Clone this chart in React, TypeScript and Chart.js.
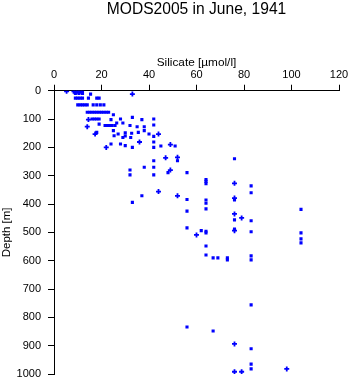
import React, { useEffect, useRef } from "react";
import { Chart, registerables } from "chart.js";

Chart.register(...registerables);

const chartTitle = "MODS2005 in June, 1941";
const xAxisTitle = "Silicate [\u00b5mol/l]";
const yAxisTitle = "Depth [m]";
const xTicks = [0, 20, 40, 60, 80, 100, 120];
const yTicks = [0, 100, 200, 300, 400, 500, 600, 700, 800, 900, 1000];

// square markers
const squareSilicate = [
  8, 9, 10, 11, 12, 8.5, 10, 11.5, 9, 10.5, 12, 15.4,
  9, 10, 11, 12, 14.5, 18, 19,
  10, 11, 12, 13, 14, 16.5, 18, 19.5, 21,
  14, 15, 16, 17, 18, 19, 20, 21, 22, 23,
  25, 16, 17, 18, 19, 24, 28, 33, 37, 42,
  19, 26.4, 29, 21.5, 22.5, 23.5, 24.5, 25.7, 32, 35, 38, 42,
  25, 27, 30, 30, 32.7, 35.5, 38, 18, 25.3, 29, 32.3, 40, 42,
  42, 24, 28, 30, 33, 42, 45, 51,
  42, 52, 38, 42, 32, 32, 42, 48, 56,
  37, 56, 33,
  76, 64, 64, 64, 83, 83, 76, 64, 64, 64, 56, 104, 76, 83,
  56, 62, 64, 64, 76, 83, 104, 104, 104, 64, 64, 67, 69, 73, 73, 83, 83,
  83, 56, 67, 83, 83, 83,
];
const squareDepth = [
  0, 0, 0, 0, 0, 5, 5, 5, 10, 10, 10, 12,
  26, 26, 26, 26, 26, 26, 26,
  50, 50, 50, 50, 50, 50, 50, 50, 50,
  76, 76, 76, 76, 76, 76, 76, 76, 76, 76,
  85, 100, 100, 100, 100, 102, 100, 94, 102, 100,
  118, 114, 114, 123, 123, 123, 123, 123, 123, 127, 127, 121,
  141, 153, 149, 160, 150, 147, 141, 147, 159, 165, 165, 153, 161,
  181, 188, 188, 194, 200, 200, 195, 195,
  247, 247, 270, 270, 280, 297, 297, 289, 289,
  371, 384, 394,
  240, 314, 320, 328, 336, 360, 386, 386, 397, 417, 425, 419, 456, 459,
  484, 494, 496, 502, 488, 498, 502, 523, 537, 548, 580, 590, 590, 590, 597, 583, 597,
  756, 834, 848, 911, 965, 982,
];

// plus markers
const plusSilicate = [
  5.3, 33, 14.5, 14, 17.3, 44, 36, 22, 49,
  47, 52, 49, 44, 52,
  76, 76, 76, 79, 60, 76, 76, 76, 79, 98,
];
const plusDepth = [
  2, 12, 102, 127, 153, 153, 181, 200, 190,
  237, 235, 280, 356, 371,
  327, 379, 435, 449, 509, 494, 894, 992, 992, 982,
];

const BLUE = "#0000ff";
const FONT = "'Liberation Sans', Arial, Helvetica, sans-serif";

export default function App() {
  const canvasRef = useRef<HTMLCanvasElement | null>(null);

  useEffect(() => {
    if (!canvasRef.current) return;
    const sq = squareSilicate.map((x, i) => ({ x, y: squareDepth[i] }));
    const pl = plusSilicate.map((x, i) => ({ x, y: plusDepth[i] }));
    const chart = new Chart(canvasRef.current, {
      type: "scatter",
      data: {
        datasets: [
          {
            data: sq,
            pointStyle: "rect",
            pointRadius: 2.2,
            backgroundColor: BLUE,
            borderColor: BLUE,
            borderWidth: 0,
          },
          {
            data: pl,
            pointStyle: "cross",
            pointRadius: 2.5,
            backgroundColor: BLUE,
            borderColor: BLUE,
            borderWidth: 1.8,
          },
        ],
      },
      options: {
        animation: false,
        responsive: false,
        devicePixelRatio: 1,
        layout: { padding: { left: 0, right: 12, top: 0, bottom: 10 } },
        plugins: {
          legend: { display: false },
          tooltip: { enabled: false },
          title: {
            display: true,
            text: chartTitle,
            color: "#000",
            fullSize: false,
            font: { family: FONT, size: 15.6, weight: "normal" },
            padding: { top: 0, bottom: 28 },
          },
        },
        scales: {
          x: {
            type: "linear",
            position: "top",
            min: 0,
            max: 120,
            afterBuildTicks: (axis: any) => {
              axis.ticks = xTicks.map((v) => ({ value: v }));
            },
            afterFit: (axis: any) => {
              axis.height = 44;
              axis.paddingLeft = 0;
              axis.paddingRight = 0;
            },
            ticks: {
              color: "#000",
              font: { family: FONT, size: 11 },
              padding: 3,
              maxRotation: 0,
              callback: (v: any) => String(v),
            },
            grid: {
              display: true,
              drawOnChartArea: false,
              drawTicks: true,
              tickLength: 6,
              color: "#000",
              lineWidth: 1,
            },
            border: { display: true, color: "#000", width: 1 },
            title: {
              display: true,
              text: xAxisTitle,
              color: "#000",
              font: { family: FONT, size: 11.8 },
              padding: { top: 9, bottom: 2 },
            },
          },
          y: {
            type: "linear",
            reverse: true,
            min: 0,
            max: 1000,
            afterBuildTicks: (axis: any) => {
              axis.ticks = yTicks.map((v) => ({ value: v }));
            },
            afterFit: (axis: any) => {
              axis.width = 54;
              axis.paddingTop = 0;
              axis.paddingBottom = 0;
            },
            ticks: {
              color: "#000",
              font: { family: FONT, size: 11 },
              padding: 7,
              callback: (v: any) => String(v),
            },
            grid: {
              display: true,
              drawOnChartArea: false,
              drawTicks: true,
              tickLength: 6,
              color: "#000",
              lineWidth: 1,
            },
            border: { display: true, color: "#000", width: 1 },
            title: {
              display: true,
              text: yAxisTitle,
              color: "#000",
              font: { family: FONT, size: 11.5 },
              padding: { top: 0, bottom: 2 },
            },
          },
        },
      },
    });
    return () => chart.destroy();
  }, []);

  return (
    <div style={{ position: "fixed", left: 0, top: 0, width: 351, height: 384, background: "#fff" }}>
      <canvas ref={canvasRef} width={351} height={384} style={{ width: 351, height: 384 }} />
    </div>
  );
}
